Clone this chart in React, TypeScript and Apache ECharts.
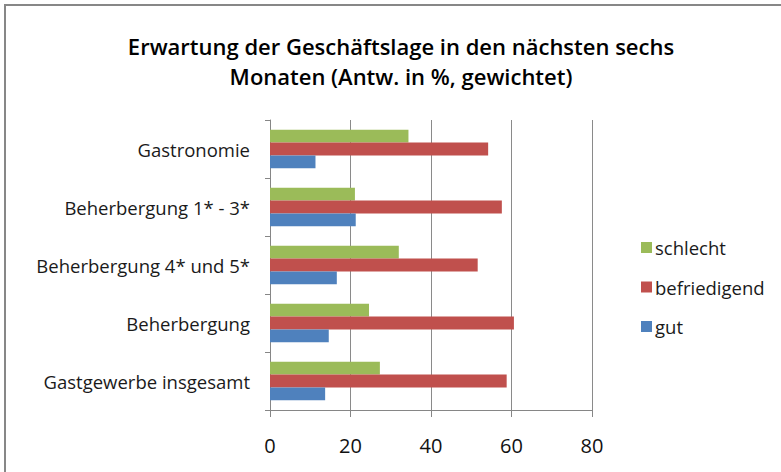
import React, { useEffect, useRef } from "react";
import * as echarts from "echarts";

const categories = [
  "Gastgewerbe insgesamt",
  "Beherbergung",
  "Beherbergung 4* und 5*",
  "Beherbergung 1* - 3*",
  "Gastronomie",
];
const gut = [13.7, 14.6, 16.6, 21.3, 11.3];
const befriedigend = [58.8, 60.6, 51.6, 57.6, 54.2];
const schlecht = [27.3, 24.6, 32.0, 21.1, 34.4];
const xTicks = [0, 20, 40, 60, 80];
const titleLines = [
  "Erwartung der Geschäftslage in den nächsten sechs",
  "Monaten (Antw. in %, gewichtet)",
];

const FONT = "Open Sans, Lato, sans-serif";

export default function App() {
  const ref = useRef<HTMLDivElement>(null);
  useEffect(() => {
    if (!ref.current) return;
    const chart = echarts.init(ref.current, undefined, { renderer: "svg" });
    chart.setOption({
      animation: false,
      backgroundColor: "#ffffff",
      title: {
        text: titleLines.join("\n"),
        left: 396,
        top: 26,
        textAlign: "center",
        textStyle: {
          fontFamily: FONT,
          fontSize: 22,
          fontWeight: 600,
          color: "#000",
          lineHeight: 30,
        },
      },
      graphic: [
        {
          type: "rect",
          shape: { x: 5, y: 5, width: 800, height: 500 },
          style: { fill: "none", stroke: "#878787", lineWidth: 2 },
          silent: true,
        },
      ],
      legend: {
        orient: "vertical",
        left: 636,
        top: 233,
        itemWidth: 11,
        itemHeight: 11,
        itemGap: 20.5,
        icon: "rect",
        data: ["schlecht", "befriedigend", "gut"],
        textStyle: { fontFamily: FONT, fontSize: 18.5, color: "#1a1a1a", padding: [0, 0, 0, -2] },
      },
      grid: { left: 270, top: 120, width: 322, height: 290, containLabel: false },
      xAxis: {
        type: "value",
        min: 0,
        max: 80,
        interval: 20,
        axisLine: { show: true, lineStyle: { color: "#868686", width: 1 } },
        axisTick: { show: true, length: 7, lineStyle: { color: "#868686" } },
        axisLabel: {
          fontFamily: FONT,
          fontSize: 20,
          color: "#111",
          margin: 25,
          formatter: (v: number) => (xTicks.includes(v) ? String(v) : ""),
        },
        splitLine: { show: true, lineStyle: { color: "#8a8a8a", width: 1 } },
      },
      yAxis: {
        type: "category",
        data: categories,
        axisLine: { show: true, lineStyle: { color: "#868686", width: 1 } },
        axisTick: { show: true, length: 5, lineStyle: { color: "#868686" } },
        axisLabel: { fontFamily: FONT, fontSize: 18.5, color: "#1a1a1a", margin: 20 },
      },
      series: [
        {
          name: "schlecht",
          type: "bar",
          data: schlecht,
          itemStyle: { color: "#9BBB59" },
          barGap: "0%",
          barCategoryGap: "34%",
        },
        {
          name: "befriedigend",
          type: "bar",
          data: befriedigend,
          itemStyle: { color: "#C0504D" },
          barGap: "0%",
          barCategoryGap: "34%",
        },
        {
          name: "gut",
          type: "bar",
          data: gut,
          itemStyle: { color: "#4F81BD" },
          barGap: "0%",
          barCategoryGap: "34%",
        },
      ],
    });
    return () => chart.dispose();
  }, []);
  return (
    <div
      ref={ref}
      style={{ position: "absolute", left: 0, top: 0, width: 781, height: 472 }}
    />
  );
}
